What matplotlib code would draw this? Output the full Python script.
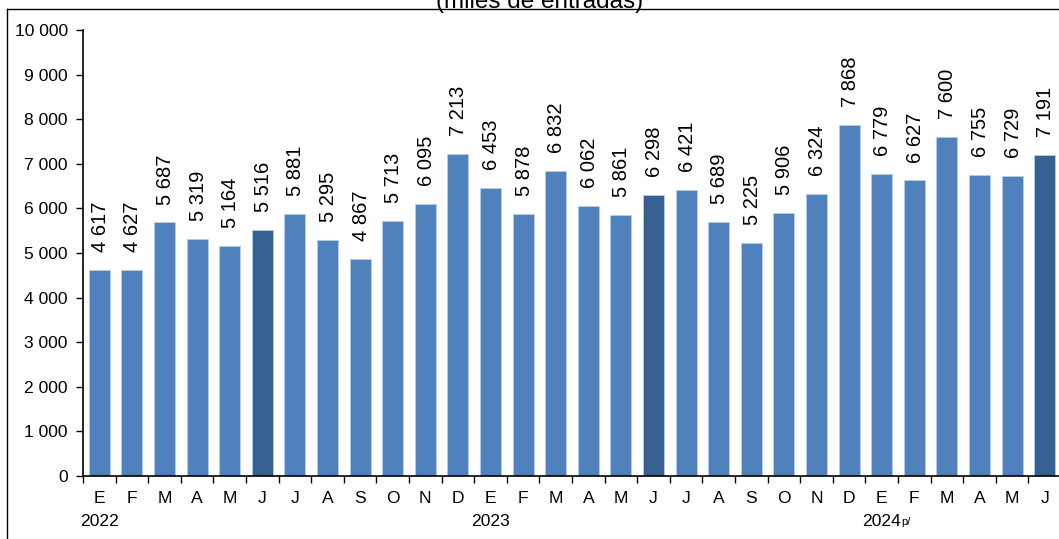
import matplotlib
matplotlib.use("Agg")
import matplotlib.pyplot as plt
from matplotlib.lines import Line2D
import numpy as np

plt.rcParams['font.family'] = ['Liberation Sans', 'DejaVu Sans']

months = ["E", "F", "M", "A", "M", "J", "J", "A", "S", "O", "N", "D",
          "E", "F", "M", "A", "M", "J", "J", "A", "S", "O", "N", "D",
          "E", "F", "M", "A", "M", "J"]
values = [4617, 4627, 5687, 5319, 5164, 5516, 5881, 5295, 4867, 5713, 6095, 7213,
          6453, 5878, 6832, 6062, 5861, 6298, 6421, 5689, 5225, 5906, 6324, 7868,
          6779, 6627, 7600, 6755, 6729, 7191]
highlight = [5, 17, 29]
years = ["2022", "2023", "2024"]
year_pos = [0, 12, 24]
title = "(miles de entradas)"

W, H = 1059, 539
FS = 12.6
fig = plt.figure(figsize=(W / 100, H / 100), dpi=100)
ax = fig.add_axes([83 / W, 63 / H, (1061 - 83) / W, (476 - 30) / H])

x = np.arange(len(values))
colors = ["#376092" if i in highlight else "#4F81BD" for i in x]
ax.bar(x, values, width=0.64, color=colors, edgecolor="#B9CDE5", linewidth=0.6)

for xi, v in zip(x, values):
    ax.text(xi + 0.03, v + 400, f"{v:,}".replace(",", " "), rotation=90, ha="center",
            va="bottom", fontsize=14.5)

ax.set_xlim(-0.5, len(values) - 0.5)
ax.set_ylim(0, 10000)
ax.set_yticks(np.arange(0, 10001, 1000))
ax.set_yticklabels([f"{v:,}".replace(",", " ") for v in range(0, 10001, 1000)], fontsize=FS)
ax.set_xticks(np.arange(-0.5, len(values), 1.0))
ax.set_xticklabels([])
ax.set_xticks(x, minor=True)
ax.set_xticklabels(months, minor=True, fontsize=FS)
ax.tick_params(axis="x", which="minor", length=0, pad=11)
ax.tick_params(axis="x", which="major", length=5, width=1, direction="out")
ax.tick_params(axis="y", length=5, width=1, direction="out", pad=6)

for s in ["top", "right"]:
    ax.spines[s].set_visible(False)
for s in ["left", "bottom"]:
    ax.spines[s].set_linewidth(1.2)

yoff = -(521 - 476) / (476 - 30)
for yl, yp in zip(years, year_pos):
    t = ax.text(yp, yoff, yl, transform=ax.get_xaxis_transform(), ha="center",
                va="center", fontsize=FS)
    if yl == "2024":
        ax.annotate("p/", xy=(1, 0.1), xycoords=t, xytext=(0, 0), textcoords="offset points",
                    ha="left", va="bottom", fontsize=8)

fig.text(540 / W, 1 - 8 / H, title, ha="center", va="baseline", fontsize=17.5)
fig.add_artist(Line2D([7 / W, 1], [1 - 9 / H, 1 - 9 / H], transform=fig.transFigure,
                      color="black", linewidth=1))
fig.add_artist(Line2D([7 / W, 7 / W], [0, 1 - 9 / H], transform=fig.transFigure,
                      color="black", linewidth=1))

fig.savefig("out.png", dpi=100)
